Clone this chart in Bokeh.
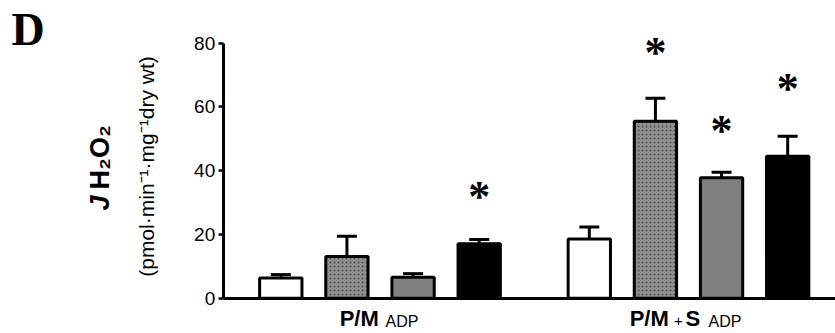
import math
from bokeh.plotting import figure
from bokeh.models import Label, Whisker, TeeHead, ColumnDataSource, FixedTicker, Range1d, LinearAxis
from bokeh.embed import file_html
from bokeh.resources import INLINE
from bokeh.core.properties import value

# ---------------- data ----------------
groups = ["P/M ADP", "P/M + S ADP"]
conditions = ["c1", "c2", "c3", "c4"]
means_pm = [6.3, 13.1, 6.6, 17.1]
sem_pm = [1.1, 6.3, 1.1, 1.3]
means_pms = [18.6, 55.5, 37.8, 44.5]
sem_pms = [3.7, 7.2, 1.7, 6.3]
star_pm = [None, None, None, 33.6]
star_pms = [None, 78.7, 54.2, 67.3]
y_ticks = [0, 20, 40, 60, 80]

# ---------------- layout (pixel geometry) ----------------
W, H = 835, 333
gap = 0.665              # extra space between the two groups (in bar units)
PX_X = 66.13             # pixels per bar slot
X0_PX = 280.3            # pixel x of first bar centre
Y0_PX = 297.7            # pixel y of value 0
PX_Y = (297.7 - 42.7) / 80.0
AXIS_PX = 222.7          # pixel x of the y axis

x_start = -X0_PX / PX_X
x_end = (W - X0_PX) / PX_X
y_start = -(H - Y0_PX) / PX_Y
y_end = Y0_PX / PX_Y

def dx(px):
    return (px - X0_PX) / PX_X

def dy(py):
    return (Y0_PX - py) / PX_Y

fills = ["white", "#8f8f8f", "#808080", "black"]
hatches = [" ", "dot", " ", " "]

xs, tops, errs, fc, hp = [], [], [], [], []
for g, (m, e) in enumerate([(means_pm, sem_pm), (means_pms, sem_pms)]):
    for i in range(4):
        xs.append(g * (4 + gap) + i)
        tops.append(m[i])
        errs.append(m[i] + e[i])
        fc.append(fills[i])
        hp.append(hatches[i])

src = ColumnDataSource(dict(x=xs, top=tops, upper=errs, fill=fc, hatch=hp))

p = figure(width=W, height=H, x_range=Range1d(x_start, x_end), y_range=Range1d(y_start, y_end),
           output_backend="svg", toolbar_location=None,
           x_axis_location=None, y_axis_location=None,
           min_border_left=0, min_border_right=0, min_border_top=0, min_border_bottom=0)
p.xgrid.visible = False
p.ygrid.visible = False
p.outline_line_color = None
p.background_fill_color = "white"
p.border_fill_color = "white"

p.vbar(x="x", top="top", bottom=0, width=0.64, source=src, fill_color="fill",
       line_color="black", line_width=3, hatch_pattern="hatch", hatch_color="#505050",
       hatch_scale=4, hatch_weight=1)

wh = Whisker(base="x", upper="upper", lower="top", source=src, dimension="height",
             line_color="black", line_width=3,
             upper_head=TeeHead(size=20, line_width=3, line_color="black"),
             lower_head=None)
p.add_layout(wh)

# asterisks
sx, sy = [], []
for g, st in enumerate([star_pm, star_pms]):
    for i in range(4):
        if st[i] is not None:
            sx.append(g * (4 + gap) + i)
            sy.append(st[i])
p.text(x=sx, y=sy, text=["*"] * len(sx), text_font=value("Liberation Serif"),
       text_font_style="bold", text_font_size="44px", text_align="center",
       text_baseline="middle", y_offset=5, text_color="black")

# axes
ya = LinearAxis(fixed_location=dx(AXIS_PX), bounds=(0, 80))
ya.ticker = FixedTicker(ticks=y_ticks)
ya.axis_line_width = 3
ya.axis_line_color = "black"
ya.major_tick_line_width = 2.5
ya.major_tick_line_color = "black"
ya.major_tick_out = 5
ya.major_tick_in = 0
ya.minor_tick_line_color = None
ya.major_label_text_font = "Liberation Sans"
ya.major_label_text_font_size = "19px"
ya.major_label_text_color = "black"
ya.major_label_standoff = 3
p.add_layout(ya, "left")

xa = LinearAxis(fixed_location=0, bounds=(dx(AXIS_PX), x_end))
xa.ticker = FixedTicker(ticks=[])
xa.axis_line_width = 3
xa.axis_line_color = "black"
xa.major_tick_line_color = None
xa.minor_tick_line_color = None
xa.major_label_text_color = None
p.add_layout(xa, "below")

def lab(px, py, text, size, style="normal", align="left", angle=0.0, font="Liberation Sans", xo=0):
    p.add_layout(Label(x=dx(px), y=dy(py), x_offset=xo, text=text, angle=angle,
                       text_font=font, text_font_style=style, text_font_size=size,
                       text_align=align, text_baseline="middle", text_color="black"))

# y-axis title pieces (rotated)
lab(99.5, 210, "J", "27px", "bold italic", "left", math.pi / 2)
lab(99.5, 189, "H\u2082O\u2082", "27px", "bold", "left", math.pi / 2)
lab(145.7, 166, "(pmol\u00b7min\u207b\u00b9\u00b7mg\u207b\u00b9dry wt)", "21px", "normal", "center", math.pi / 2)

# panel letter
lab(11, 29, "D", "46px", "bold", "left", font="Liberation Serif")

# group labels (x relative to group centres)
c1_px = X0_PX + 1.5 * PX_X
c2_px = X0_PX + (4 + gap + 1.5) * PX_X
lab(c1_px - 1.2, 318.4, "P/M", "22px", "bold", "right")
lab(c1_px + 5.5, 320.5, "ADP", "16px", "normal", "left")
lab(c2_px - 19.7, 318.4, "P/M", "22px", "bold", "right")
lab(c2_px - 10, 320.8, "+", "15px", "normal", "center")
lab(c2_px - 3, 318.4, "S", "22px", "bold", "left")
lab(c2_px + 20, 320.5, "ADP", "16px", "normal", "left")

open("out.html", "w").write(file_html(p, INLINE))
